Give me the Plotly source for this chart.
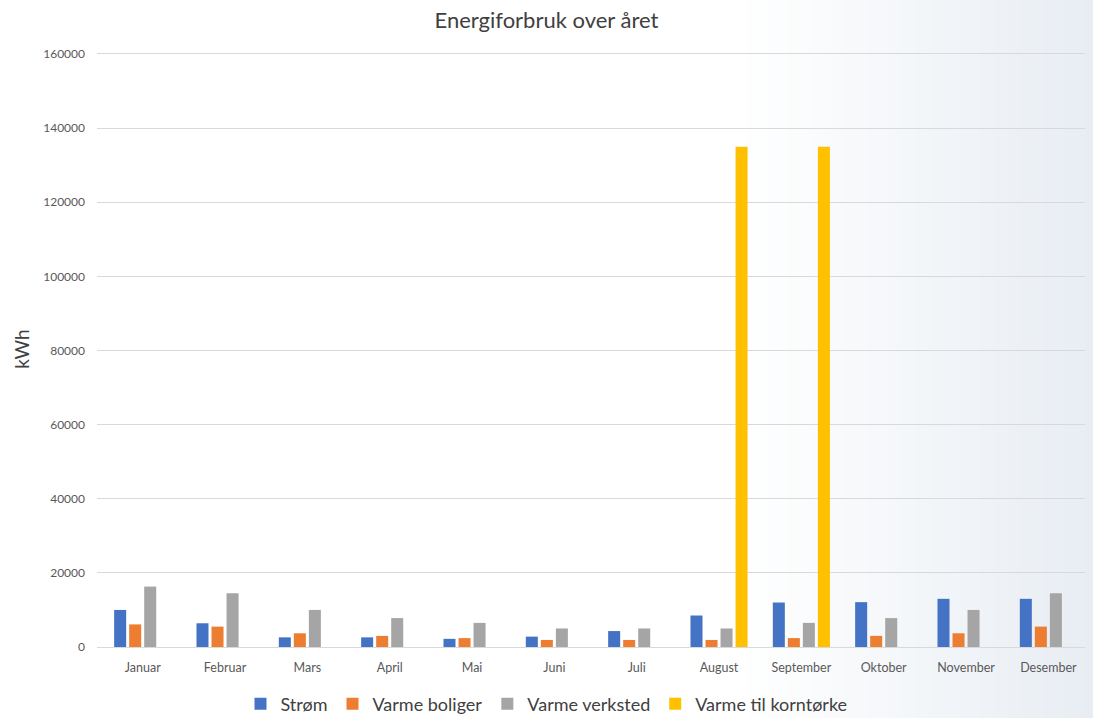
import plotly.graph_objects as go

months = ["Januar", "Februar", "Mars", "April", "Mai", "Juni", "Juli",
          "August", "September", "Oktober", "November", "Desember"]
strom = [10000, 6400, 2600, 2600, 2200, 2800, 4300, 8500, 12000, 12100, 13000, 13000]
varme_boliger = [6100, 5500, 3700, 3000, 2400, 1900, 1900, 1900, 2400, 3000, 3700, 5500]
varme_verksted = [16300, 14500, 10000, 7800, 6500, 5000, 5000, 5000, 6500, 7800, 10000, 14500]
varme_korntorke = [0, 0, 0, 0, 0, 0, 0, 135000, 135000, 0, 0, 0]

series = [
    ("Strøm", strom, "#4472C4"),
    ("Varme boliger", varme_boliger, "#ED7D31"),
    ("Varme verksted", varme_verksted, "#A5A5A5"),
    ("Varme til korntørke", varme_korntorke, "#FFC000"),
]

W, H = 1093, 718
ml, mr, mt, mb = 97, 8, 51, 71
pw = W - ml - mr

fig = go.Figure()
for name, vals, col in series:
    fig.add_trace(go.Bar(x=months, y=vals, name=name, marker=dict(color=col, line=dict(width=0))))

# gradient background on the right side
shapes = []
x0px, x1px = 740, W
n = 50
c0 = (255, 255, 255)
c1 = (232, 237, 243)
for i in range(n):
    a = x0px + (x1px - x0px) * i / n
    b = x0px + (x1px - x0px) * (i + 1) / n + 1
    t = (i + 0.5) / n
    c = tuple(round(c0[k] + (c1[k] - c0[k]) * t) for k in range(3))
    shapes.append(dict(type="rect", xref="paper", yref="paper",
                       x0=(a - ml) / pw, x1=(b - ml) / pw,
                       y0=-0.2, y1=1.2, fillcolor="rgb(%d,%d,%d)" % c,
                       line=dict(width=0), layer="below"))

fig.update_layout(
    width=W, height=H,
    margin=dict(l=ml, r=mr, t=mt, b=mb, autoexpand=False),
    paper_bgcolor="white",
    plot_bgcolor="rgba(0,0,0,0)",
    barmode="group",
    bargap=0.27,
    bargroupgap=0.2,
    shapes=shapes,
    title=dict(text="Energiforbruk over året", x=0.5, xref="container", xanchor="center",
               y=1 - 20 / H, yref="container", yanchor="middle",
               font=dict(family="Lato, Open Sans, sans-serif", size=22, color="#404040")),
    font=dict(family="Lato, Open Sans, sans-serif", color="#595959"),
    legend=dict(orientation="h", x=0.5, xref="container", xanchor="center",
                y=(H - 704) / H, yref="container", yanchor="middle",
                font=dict(size=18, color="#404040"), bgcolor="rgba(0,0,0,0)",
                itemwidth=30, traceorder="normal"),
    xaxis=dict(showgrid=False, showline=False, zeroline=False, ticks="",
               range=[-0.555, 11.445], ticklabelstandoff=11,
               tickfont=dict(size=12.5, color="#595959")),
    yaxis=dict(range=[0, 160800], tickvals=[0, 20000, 40000, 60000, 80000, 100000, 120000, 140000, 160000],
               tickformat="d", showgrid=True, gridcolor="#D9D9D9",
               gridwidth=1, zeroline=True, zerolinecolor="#D9D9D9", zerolinewidth=1,
               showline=False, ticks="",
               ticklabelstandoff=11,
               tickfont=dict(size=12, color="#595959"),
               title=dict(text="kWh", font=dict(size=19, color="#404040"), standoff=8)),
)

fig.write_html("out.html")
